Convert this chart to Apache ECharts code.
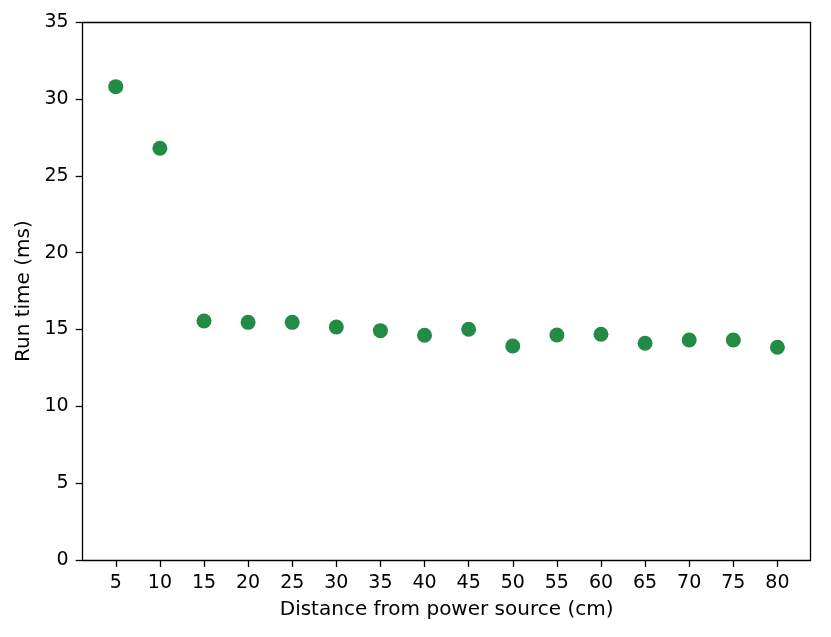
<!DOCTYPE html>
<html>
<head>
<meta charset="utf-8">
<script src="https://cdn.jsdelivr.net/npm/echarts@6/dist/echarts.min.js"></script>
<style>html,body{margin:0;padding:0;background:#fff}#c{width:831px;height:637px}</style>
</head>
<body>
<div id="c"></div>
<script>
const distances = [5, 10, 15, 20, 25, 30, 35, 40, 45, 50, 55, 60, 65, 70, 75, 80];
const runTimes = [30.81, 26.80, 15.56, 15.47, 15.47, 15.17, 14.93, 14.63, 15.02, 13.93, 14.65, 14.69, 14.11, 14.32, 14.32, 13.85];
const xTicks = [5, 10, 15, 20, 25, 30, 35, 40, 45, 50, 55, 60, 65, 70, 75, 80];
const yTicks = [0, 5, 10, 15, 20, 25, 30, 35];

const font = 'DejaVu Sans';
const lineStyle = {color: '#000', width: 1.3};
const chart = echarts.init(document.getElementById('c'), null, {renderer: 'canvas'});
chart.setOption({
  animation: false,
  grid: {left: 82.7, right: 20.5, top: 22.3, bottom: 77, containLabel: false},
  xAxis: [{
    type: 'value', min: 1.25, max: 83.75,
    name: 'Distance from power source (cm)', nameLocation: 'middle', nameGap: 40,
    nameTextStyle: {fontFamily: font, fontSize: 20, color: '#000'},
    axisLine: {show: true, onZero: false, lineStyle},
    axisTick: {show: true, length: 7, lineStyle, customValues: xTicks},
    axisLabel: {fontFamily: font, fontSize: 19, color: '#000', margin: 14, customValues: xTicks},
    splitLine: {show: false}
  }, {
    type: 'value', position: 'top', min: 1.25, max: 83.75,
    axisLine: {show: true, onZero: false, lineStyle}, axisTick: {show: false}, axisLabel: {show: false}, splitLine: {show: false}
  }],
  yAxis: [{
    type: 'value', min: 0, max: 35, interval: 5,
    name: 'Run time (ms)', nameLocation: 'middle', nameGap: 48,
    nameTextStyle: {fontFamily: font, fontSize: 20, color: '#000'},
    axisLine: {show: true, onZero: false, lineStyle},
    axisTick: {show: true, length: 7, lineStyle, customValues: yTicks},
    axisLabel: {fontFamily: font, fontSize: 19, color: '#000', margin: 14, customValues: yTicks},
    splitLine: {show: false}
  }, {
    type: 'value', position: 'right', min: 0, max: 35,
    axisLine: {show: true, onZero: false, lineStyle}, axisTick: {show: false}, axisLabel: {show: false}, splitLine: {show: false}
  }],
  series: [{
    type: 'scatter',
    symbolSize: 15,
    itemStyle: {color: '#238b45', opacity: 1},
    data: distances.map((d, i) => [d, runTimes[i]])
  }]
});
</script>
</body>
</html>
